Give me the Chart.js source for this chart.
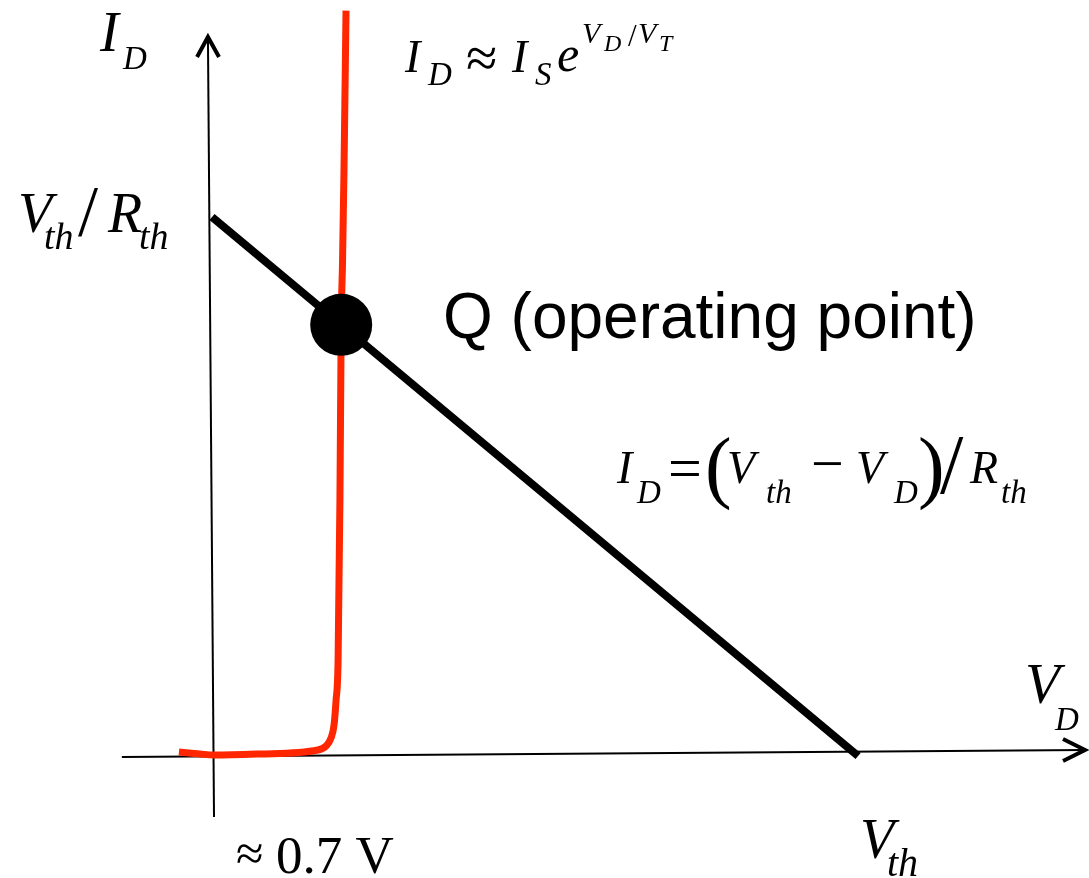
<!DOCTYPE html>
<html>
<head>
<meta charset="utf-8">
<script src="https://cdn.jsdelivr.net/npm/chart.js@4"></script>
<style>
  html, body { margin: 0; padding: 0; background: #fff; }
  #load { display: block; }
</style>
</head>
<body>
<canvas id="load" width="1089" height="878"></canvas>
<script>
// diode curve, V_D in volts / I_D in mA
const diodeVD = [-0.179, -0.065, 0.011, 0.26, 0.574, 0.618, 0.645, 0.661, 0.672, 0.683, 0.693, 0.70, 0.707, 0.715, 0.726];
const diodeID = [0.026, 0.013, 0.006, 0.013, 0.039, 0.065, 0.117, 0.20, 0.36, 0.62, 1.66, 2.80, 3.20, 3.80, 4.84];

// load line: Vth = 3.5 V, Rth = 1 kOhm
const loadVD = [0, 3.5];
const loadID = [3.5, 0];

// operating point
const qVD = [0.7];
const qID = [2.8];

// axes and their arrowheads
const yAxisVD = [0.011, -0.022];
const yAxisID = [-0.396, 4.669];
const yArrowVD = [-0.081, -0.022, 0.038];
const yArrowID = [4.539, 4.669, 4.539];
const xAxisVD = [-0.488, 4.729];
const xAxisID = [-0.006, 0.039];
const xArrowVD = [4.61, 4.729, 4.61];
const xArrowID = [0.110, 0.039, -0.032];

function pts(xs, ys) {
    return xs.map((x, i) => ({ x: x, y: ys[i] }));
}

const SERIF = '"Liberation Serif", "Times New Roman", serif';
const SANS = '"Liberation Sans", Arial, sans-serif';

// text pieces: [text, left, baseline, size, italic, family]
const labels = [
    ["I", 100, 51, 56, true, SERIF],
    ["D", 123, 69, 33, true, SERIF],

    ["V", 18, 232, 56, true, SERIF],
    ["th", 44, 249, 38, true, SERIF],
    ["/", 78, 235, 72, false, SERIF],
    ["R", 108, 232, 56, true, SERIF],
    ["th", 139, 249, 38, true, SERIF],

    ["I", 405, 72, 46, true, SERIF],
    ["D", 428, 85, 33, true, SERIF],
    ["\u2248", 466, 77, 57, false, SERIF],
    ["I", 512, 72, 46, true, SERIF],
    ["S", 535, 85, 33, true, SERIF],
    ["e", 557, 71, 50, true, SERIF],
    ["V", 582, 43, 30, true, SERIF],
    ["D", 604, 51, 24, true, SERIF],
    ["/", 628, 46, 31, false, SERIF],
    ["V", 638, 43, 30, true, SERIF],
    ["T", 659, 51, 24, true, SERIF],

    ["Q (operating point)", 443, 338, 64, false, SANS],

    ["I", 617, 483, 46, true, SERIF],
    ["D", 637, 503, 33, true, SERIF],
    ["=", 668, 488, 60, false, SERIF],
    ["(", 705, 493, 80, false, SERIF],
    ["V", 727, 483, 46, true, SERIF],
    ["th", 766, 503, 33, true, SERIF],
    ["\u2212", 811, 483, 58, false, SERIF],
    ["V", 856, 483, 46, true, SERIF],
    ["D", 894, 503, 33, true, SERIF],
    [")", 918, 493, 80, false, SERIF],
    ["/", 940, 493, 84, false, SERIF],
    ["R", 970, 483, 46, true, SERIF],
    ["th", 1001, 503, 33, true, SERIF],

    ["\u2248", 236, 870, 50, false, SERIF],
    ["0.7 V", 276, 873, 53, false, SERIF],

    ["V", 1025, 703, 57, true, SERIF],
    ["D", 1055, 730, 33, true, SERIF],

    ["V", 860, 858, 56, true, SERIF],
    ["th", 887, 876, 40, true, SERIF],
];

const textPlugin = {
    id: "mathText",
    afterDraw(chart) {
        const ctx = chart.ctx;
        ctx.save();
        ctx.fillStyle = "#000";
        ctx.textBaseline = "alphabetic";
        ctx.textAlign = "left";
        labels.forEach(([t, x, y, size, italic, fam]) => {
            ctx.font = `${italic ? "italic " : ""}${size}px ${fam}`;
            ctx.fillText(t, x, y);
        });
        ctx.restore();
    }
};

function lineSet(data, color, width, order, extra) {
    return Object.assign({
        data: data,
        showLine: true,
        borderColor: color,
        backgroundColor: color,
        borderWidth: width,
        pointRadius: 0,
        fill: false,
        order: order,
    }, extra || {});
}

new Chart(document.getElementById("load"), {
    type: "scatter",
    data: {
        datasets: [
            {
                data: pts(qVD, qID),
                backgroundColor: "#000",
                borderColor: "#000",
                pointRadius: 31,
                borderWidth: 0,
                order: 0,
            },
            lineSet(pts(loadVD, loadID), "#000", 8, 1),
            lineSet(pts(diodeVD, diodeID), "#ff2600", 7, 2, { cubicInterpolationMode: "monotone" }),
            lineSet(pts(yAxisVD, yAxisID), "#000", 2, 5),
            lineSet(pts(yArrowVD, yArrowID), "#000", 4, 5, { borderJoinStyle: "miter" }),
            lineSet(pts(xAxisVD, xAxisID), "#000", 2, 5),
            lineSet(pts(xArrowVD, xArrowID), "#000", 4, 5, { borderJoinStyle: "miter" }),
        ]
    },
    options: {
        responsive: false,
        animation: false,
        layout: { padding: 0, autoPadding: false },
        plugins: {
            legend: { display: false },
            tooltip: { enabled: false },
        },
        scales: {
            x: { type: "linear", min: -1.1484, max: 4.7508, display: false },
            y: { type: "linear", min: -0.7922, max: 4.9091, display: false },
        },
    },
    plugins: [textPlugin],
});
</script>
</body>
</html>
